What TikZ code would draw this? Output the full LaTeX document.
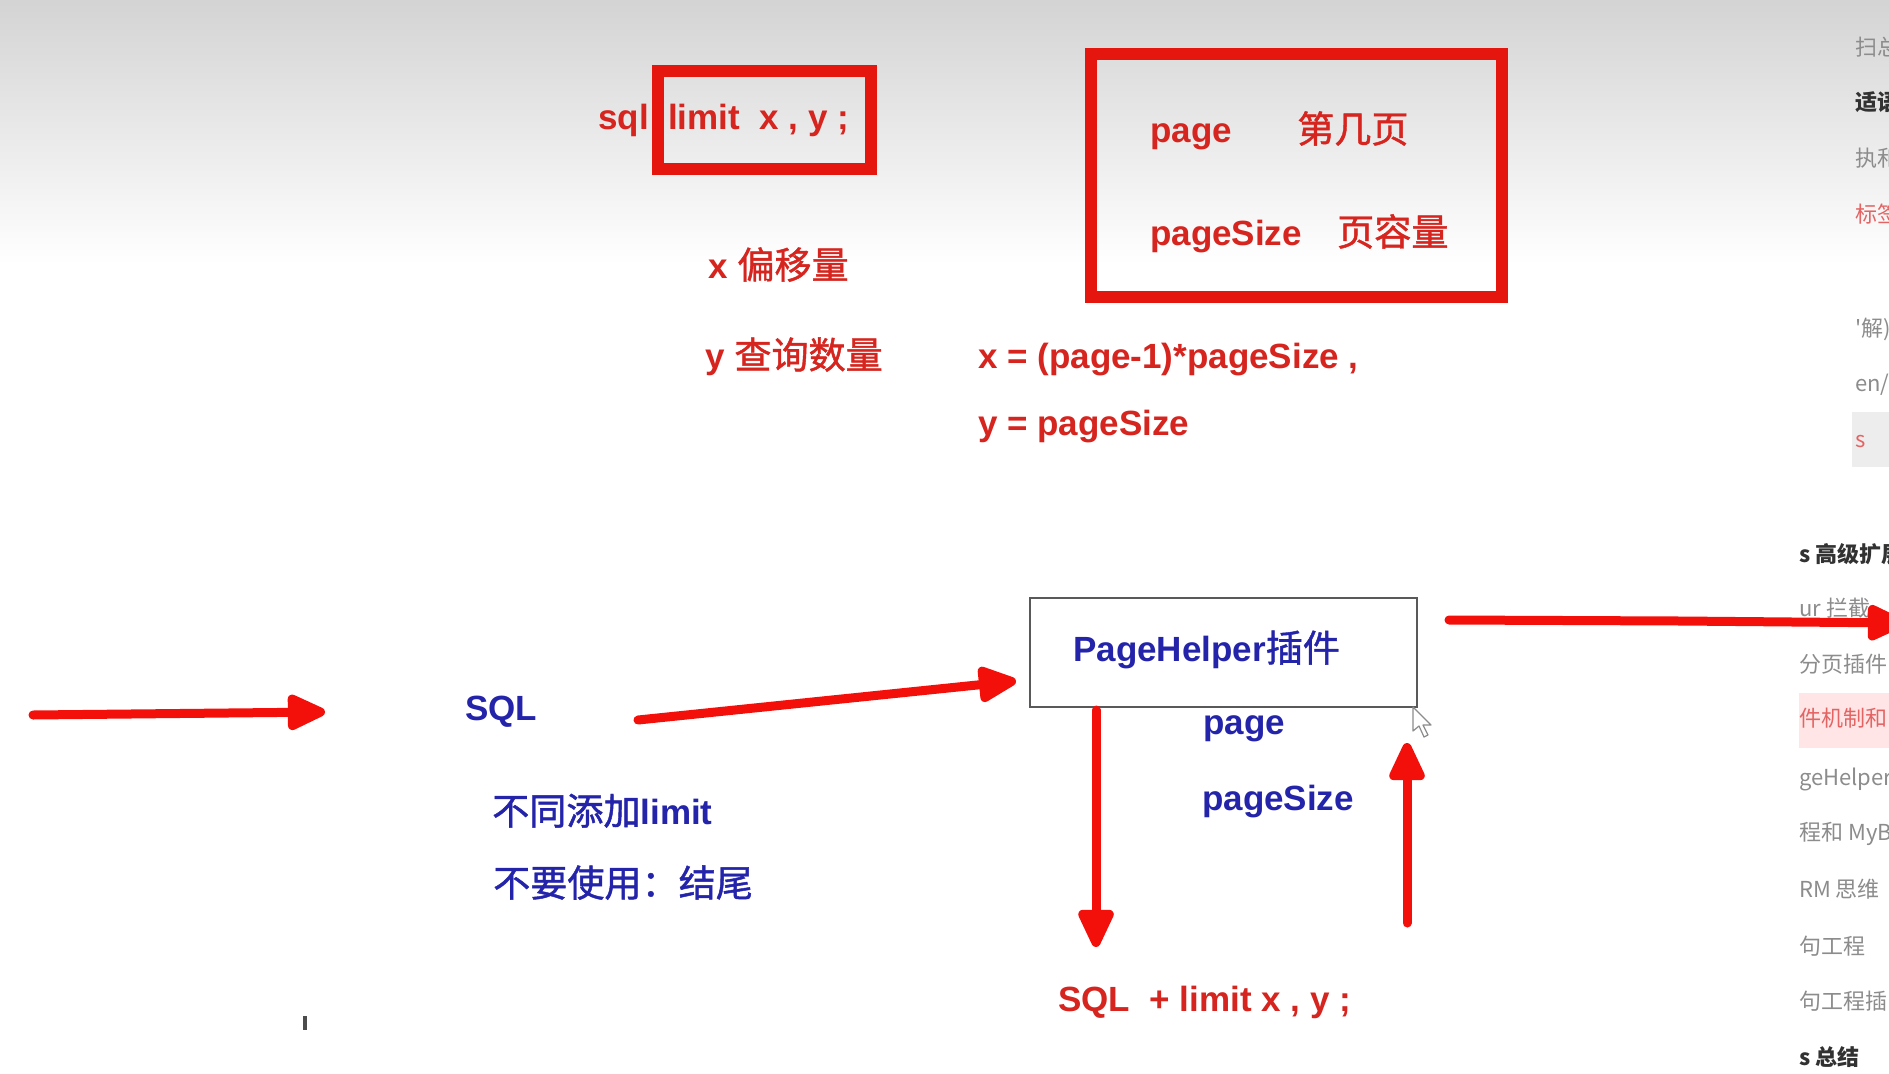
\documentclass[tikz,border=0pt]{standalone}
\usepackage{fontspec}
\setmainfont{Liberation Sans}
\newfontfamily\cjk{Noto Sans CJK SC}[Scale=1.06,BoldFont={Noto Sans CJK SC},BoldFeatures={FakeBold=1.2}]
\newfontfamily\cjkside{Noto Sans CJK SC}
\usetikzlibrary{arrows.meta}
\definecolor{boxred}{RGB}{228,22,14}
\definecolor{txtred}{RGB}{214,36,30}
\definecolor{txtblue}{RGB}{36,36,170}
\definecolor{arrred}{RGB}{244,16,10}
\definecolor{sidegray}{RGB}{140,140,140}
\definecolor{sidedark}{RGB}{50,50,50}
\definecolor{sidepink}{RGB}{228,100,100}
\tikzset{
  redlbl/.style={anchor=mid west,inner sep=0pt,text=txtred,font=\fontsize{35}{40}\selectfont\bfseries},
  bluelbl/.style={anchor=mid west,inner sep=0pt,text=txtblue,font=\fontsize{35}{40}\selectfont\bfseries},
  redframe/.style={draw=boxred,line width=12pt},
  plainbox/.style={draw=black!65,line width=2pt},
  bigarrow/.style={draw=arrred,line width=9pt,line cap=round,line join=round,
     -{Triangle[length=44pt,width=38pt,round]}},
  sidetxt/.style={anchor=mid west,inner sep=0pt,text=sidegray,font=\cjkside\fontsize{22}{24}\selectfont},
  sidebold/.style={sidetxt,text=sidedark,font=\cjkside\bfseries\fontsize{22}{24}\selectfont},
}
\begin{document}
\begin{tikzpicture}[x=1pt,y=-1pt]
\useasboundingbox (0,0) rectangle (1889,1073);
\begin{scope}
\clip (0,0) rectangle (1889,1073);
\fill[white] (0,0) rectangle (1889,1073);
\shade[top color=black!17,bottom color=white] (0,0) rectangle (1889,265);

% top-left: sql limit
\draw[redframe] (658,71) rectangle (871,169);
\node[redlbl] (sql) at (598,127) {sql};
\node[redlbl] (limit) at (668,127) {limit\ \ x , y ;};
\node[redlbl] (xoff) at (708,276) {x {\cjk 偏移量}};
\node[redlbl] (ycnt) at (705,366) {y {\cjk 查询数量}};

% top-right: page / pageSize box
\draw[redframe] (1091,54) rectangle (1502,297);
\node[redlbl] (page) at (1150,140) {page};
\node[redlbl] (pagecn) at (1297,140) {\cjk 第几页};
\node[redlbl] (psize) at (1150,243) {pageSize};
\node[redlbl] (psizecn) at (1337,243) {\cjk 页容量};

\node[redlbl] (fx) at (978,366) {x = (page-1)*pageSize ,};
\node[redlbl] (fy) at (978,433) {y = pageSize};

% bottom flow
\node[bluelbl] (sqlb) at (465,718) {SQL};
\node[bluelbl] (n1) at (492,822) {{\cjk 不同添加}limit};
\node[bluelbl] (n2) at (493,894) {\cjk 不要使用：结尾};

\node[plainbox,minimum width=387pt,minimum height=109pt,inner sep=0pt] (ph) at (1223.5,652.5) {};
\node[bluelbl] (phl) at (1073,659) {PageHelper{\cjk 插件}};
\node[bluelbl] (pg) at (1203,732) {page};
\node[bluelbl] (pgs) at (1202,808) {pageSize};
\node[redlbl] (res) at (1058,1009) {SQL\ \ + limit x , y ;};

\coordinate (a1s) at (33,715);
\coordinate (a1e) at (325,712);
\coordinate (a2s) at (638,720);
\coordinate (a2e) at (1016,681);
\coordinate (a3s) at (1096,710);
\coordinate (a3e) at (1096,947);
\coordinate (a4s) at (1407,923);
\coordinate (a4e) at (1407,743);
\coordinate (a5s) at (1449,620);
\coordinate (a5e) at (1905,623);

% sidebar
\fill[black!7] (1852,412) rectangle (1889,467);
\fill[red!10] (1799,693) rectangle (1889,748);
\node[sidetxt] (s1) at (1855,53) {扫总};
\node[sidebold] (s2) at (1855,108) {适语句};
\node[sidetxt] (s3) at (1855,164) {执和};
\node[sidetxt,text=sidepink] (s4) at (1855,220) {标签};
\node[sidetxt] (s5) at (1855,334) {'解)};
\node[sidetxt] (s6) at (1855,389) {en/};
\node[sidetxt,text=sidepink] (s7) at (1855,445) {s};
\node[sidebold] (s8) at (1799,560) {s 高级扩展};
\node[sidetxt] (s9) at (1799,614) {ur 拦截};
\node[sidetxt] (s10) at (1799,670) {分页插件};
\node[sidetxt,text=sidepink] (s11) at (1799,724) {件机制和};
\node[sidetxt] (s12) at (1799,783) {geHelper};
\node[sidetxt] (s13) at (1799,838) {程和 MyB};
\node[sidetxt] (s14) at (1799,895) {RM 思维};
\node[sidetxt] (s15) at (1799,952) {句工程};
\node[sidetxt] (s16) at (1799,1007) {句工程插};
\node[sidebold] (s17) at (1799,1063) {s 总结};

% arrows
\draw[bigarrow] (a1s) -- (a1e);
\draw[bigarrow] (a2s) -- (a2e);
\draw[bigarrow] (a3s) -- (a3e);
\draw[bigarrow] (a4s) -- (a4e);
\draw[bigarrow] (a5s) -- (1680,621) -- (a5e);

% mouse cursor and text caret
\draw[black!45,line width=1.2pt,fill=white,line join=round]
  (1413,707) -- (1413,731) -- (1419,726) -- (1424,737) -- (1428,735) -- (1423,725) -- (1431,725) -- cycle;
\fill[black!70] (303,1016) rectangle (307,1030);
\end{scope}
\end{tikzpicture}
\end{document}
